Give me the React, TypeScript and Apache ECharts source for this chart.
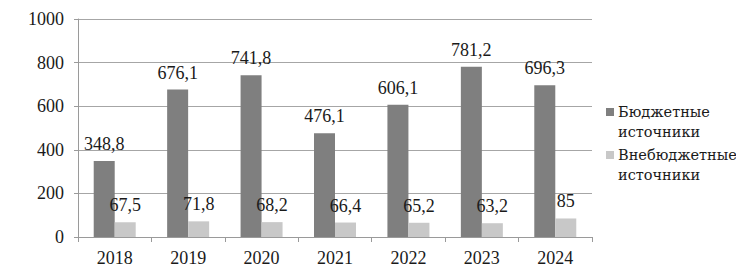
import React, { useEffect, useRef } from "react";
import * as echarts from "echarts";

const categories = ["2018", "2019", "2020", "2021", "2022", "2023", "2024"];
const budget = [348.8, 676.1, 741.8, 476.1, 606.1, 781.2, 696.3];
const extraBudget = [67.5, 71.8, 68.2, 66.4, 65.2, 63.2, 85];
const seriesNames = ["Бюджетные источники", "Внебюджетные источники"];
const legendLines = [
  ["Бюджетные", "источники"],
  ["Внебюджетные", "источники"],
];
const colors = ["#7f7f7f", "#c8c8c8"];

const FONT = "'Liberation Serif', 'Times New Roman', serif";
const fmt = (v: number) => String(v).replace(".", ",");

export default function App() {
  const ref = useRef<HTMLDivElement>(null);
  useEffect(() => {
    if (!ref.current) return;
    const chart = echarts.init(ref.current, undefined, { renderer: "svg" });
    const labelStyle = {
      show: true,
      position: "top" as const,
      distance: 8,
      fontFamily: FONT,
      fontSize: 18,
      color: "#1a1a1a",
      formatter: (p: any) => fmt(p.value),
    };
    const legendGraphics: any[] = [];
    legendLines.forEach((lines, i) => {
      const y0 = 108 + i * 43;
      legendGraphics.push({
        type: "rect",
        left: 606,
        top: y0,
        shape: { width: 8, height: 8 },
        style: { fill: colors[i] },
      });
      lines.forEach((t, j) => {
        legendGraphics.push({
          type: "text",
          x: 618,
          y: y0 + 4 + j * 20,
          style: {
            text: t,
            fontFamily: "'DejaVu Serif', serif",
            fontSize: 14.5,
            fill: "#1a1a1a",
            verticalAlign: "middle",
            align: "left",
          },
        });
      });
    });
    chart.setOption({
      animation: false,
      backgroundColor: "#ffffff",
      textStyle: { fontFamily: FONT },
      grid: { left: 78, right: 152, top: 19, bottom: 39, containLabel: false },
      graphic: legendGraphics,
      xAxis: {
        type: "category",
        data: categories,
        axisLine: { lineStyle: { color: "#9a9a9a", width: 1 } },
        axisTick: { show: true, length: 5, lineStyle: { color: "#9a9a9a" } },
        axisLabel: { fontFamily: FONT, fontSize: 18, color: "#1a1a1a", margin: 12 },
      },
      yAxis: {
        type: "value",
        min: 0,
        max: 1000,
        interval: 200,
        axisLine: { show: true, lineStyle: { color: "#9a9a9a", width: 1 } },
        axisTick: { show: true, length: 4, lineStyle: { color: "#9a9a9a" } },
        splitLine: { lineStyle: { color: "#a6a6a6", width: 1 } },
        axisLabel: {
          fontFamily: FONT,
          fontSize: 18,
          color: "#1a1a1a",
          margin: 14,
          formatter: (v: number) => String(v),
        },
      },
      series: [
        {
          name: seriesNames[0],
          type: "bar",
          data: budget,
          barWidth: 21,
          barGap: "0%",
          itemStyle: { color: colors[0] },
          label: labelStyle,
        },
        {
          name: seriesNames[1],
          type: "bar",
          data: extraBudget,
          barWidth: 21,
          barGap: "0%",
          itemStyle: { color: colors[1] },
          label: labelStyle,
        },
      ],
    });
    return () => chart.dispose();
  }, []);
  return <div ref={ref} style={{ width: 744, height: 276, margin: -8 }} />;
}
